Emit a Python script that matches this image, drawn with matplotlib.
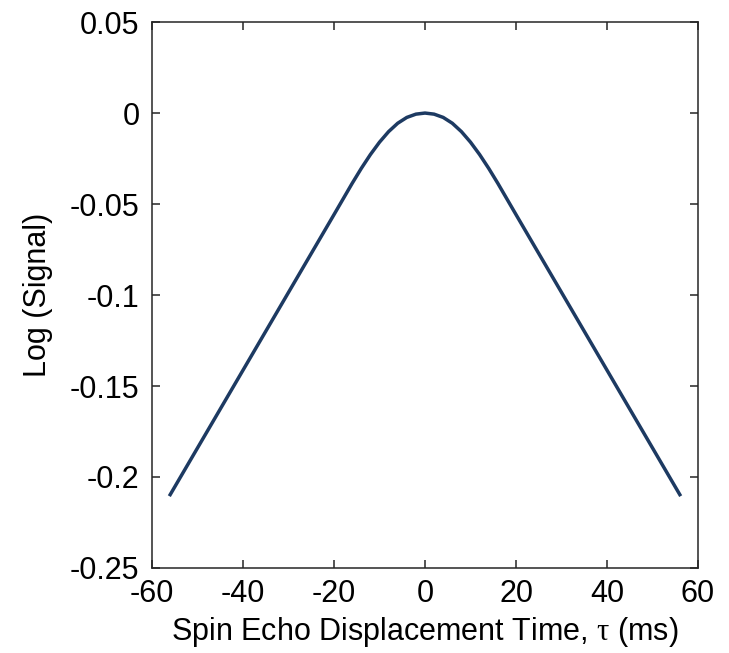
import matplotlib
matplotlib.use("Agg")
import matplotlib.pyplot as plt
import numpy as np

# (tau in ms, log signal); curve is symmetric about 0
tau_half = [0, 2, 4, 6, 8, 10, 12, 14, 16, 18, 20, 24, 28, 32, 36, 40, 44, 48, 52, 56]
logsig_half = [0, -0.0006, -0.0024, -0.0056, -0.0102, -0.0160, -0.0228, -0.0304,
               -0.0386, -0.0472, -0.0558, -0.0729, -0.0900, -0.1071, -0.1242,
               -0.1413, -0.1584, -0.1755, -0.1926, -0.2097]

tau = [-t for t in tau_half[:0:-1]] + tau_half
logsig = logsig_half[:0:-1] + logsig_half

xticks = [-60, -40, -20, 0, 20, 40, 60]
yticks = [-0.25, -0.2, -0.15, -0.1, -0.05, 0, 0.05]
ytick_labels = ["-0.25", "-0.2", "-0.15", "-0.1", "-0.05", "0", "0.05"]

plt.rcParams["font.family"] = ["Liberation Sans", "DejaVu Sans"]
plt.rcParams["axes.unicode_minus"] = False
plt.rcParams["mathtext.fontset"] = "custom"
plt.rcParams["mathtext.rm"] = "Liberation Serif"

fig = plt.figure(figsize=(7.29, 6.53), dpi=100)
ax = fig.add_axes([0.2085, 0.1302, 0.749, 0.836])

ax.plot(tau, logsig, color="#1d3a62", linewidth=2.5, solid_joinstyle="round")

ax.set_xlim(-60, 60)
ax.set_ylim(-0.25, 0.05)
ax.set_xticks(xticks)
ax.set_xticklabels([str(t) for t in xticks])
ax.set_yticks(yticks)
ax.set_yticklabels(ytick_labels)

for s in ax.spines.values():
    s.set_color("#262626")
    s.set_linewidth(1.1)
ax.tick_params(direction="in", length=6, width=1.1, color="#262626",
               top=True, right=True, labelsize=22, labelcolor="black")
ax.tick_params(axis="y", pad=9)
ax.tick_params(axis="x", pad=8)

ax.set_xlabel(r"Spin Echo Displacement Time, $\mathrm{\tau}$ (ms)", fontsize=22, labelpad=4)
ax.set_ylabel("Log (Signal)", fontsize=22, labelpad=12)

fig.savefig("out.png", dpi=100)
